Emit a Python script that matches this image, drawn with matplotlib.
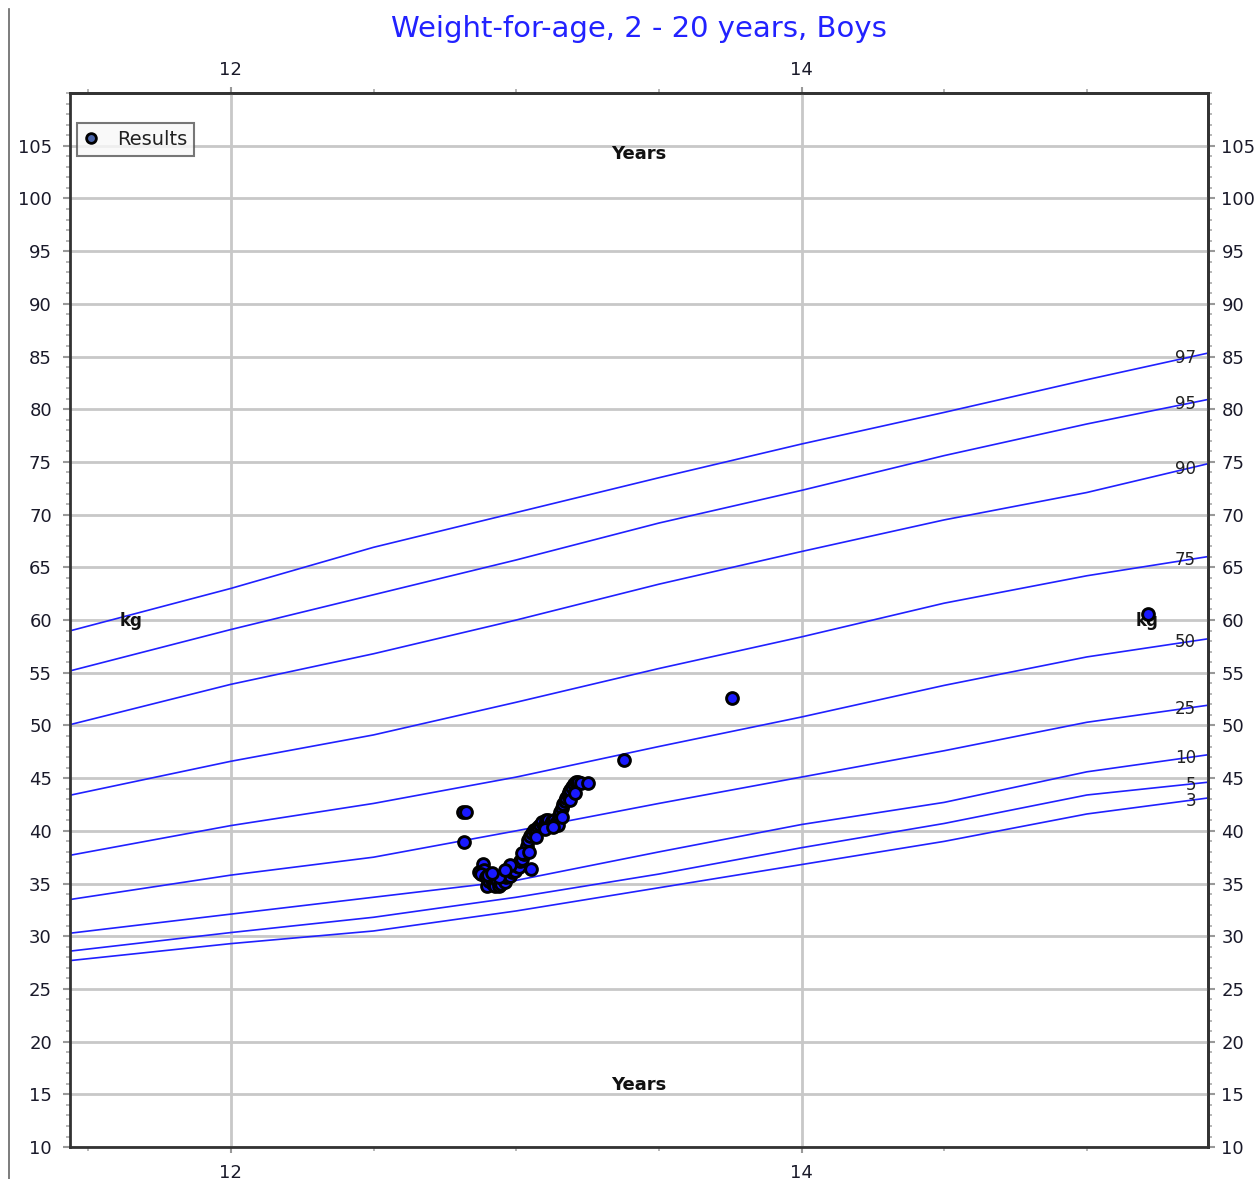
######################################################
# weight-for-age chart, boys 2 - 20 years
######################################################

import numpy as np
import matplotlib
matplotlib.use('Agg')
import matplotlib.pyplot as plt
from matplotlib.lines import Line2D

# percentile curves (age in years, weight in kg)
curve_ages = [11.44, 12.0, 12.5, 13.0, 13.5, 14.0, 14.5, 15.0, 15.42]
p97 = [59.0, 63.0, 66.9, 70.2, 73.5, 76.7, 79.7, 82.8, 85.3]
p95 = [55.2, 59.1, 62.4, 65.7, 69.2, 72.3, 75.6, 78.6, 80.9]
p90 = [50.1, 53.9, 56.8, 60.0, 63.4, 66.5, 69.5, 72.1, 74.8]
p75 = [43.4, 46.6, 49.1, 52.2, 55.4, 58.4, 61.6, 64.2, 66.0]
p50 = [37.7, 40.5, 42.6, 45.1, 48.0, 50.8, 53.8, 56.5, 58.2]
p25 = [33.5, 35.8, 37.5, 40.0, 42.6, 45.1, 47.6, 50.3, 51.9]
p10 = [30.3, 32.1, 33.7, 35.3, 38.0, 40.6, 42.7, 45.6, 47.2]
p5 = [28.6, 30.35, 31.8, 33.7, 35.9, 38.4, 40.7, 43.4, 44.6]
p3 = [27.7, 29.3, 30.5, 32.4, 34.6, 36.8, 39.0, 41.6, 43.1]
curves = [p97, p95, p90, p75, p50, p25, p10, p5, p3]
curve_names = ['97', '95', '90', '75', '50', '25', '10', '5', '3']

# measured results
result_ages = [12.813, 12.823, 12.818, 12.868, 12.882, 12.887, 12.876, 12.893,
               12.897, 12.905, 12.912, 12.918, 12.925, 12.932, 12.940, 12.948,
               12.955, 12.960, 12.966, 12.972, 12.978, 12.985, 12.990, 12.996,
               13.003, 13.010, 13.015, 13.022, 13.028, 13.033, 13.038, 13.043,
               13.048, 13.053, 13.056, 13.062, 13.068, 13.075, 13.082, 13.090,
               13.097, 13.104, 13.112, 13.118, 13.125, 13.132, 13.140, 13.147,
               13.150, 13.155, 13.160, 13.165, 13.170, 13.175, 13.180, 13.185,
               13.190, 13.196, 13.203, 13.210, 13.218, 13.228, 13.250, 13.378,
               13.757, 15.213, 12.900, 12.940, 12.980, 13.020, 13.045, 13.070,
               13.100, 13.130, 13.160, 13.190, 13.205, 12.915, 12.960]
result_weights = [41.8, 41.8, 38.9, 36.1, 36.9, 36.3, 35.9, 35.6,
                  34.8, 35.2, 35.5, 35.0, 34.8, 35.3, 34.8, 35.0,
                  35.4, 35.1, 35.6, 35.9, 35.7, 36.1, 36.4, 36.2,
                  36.7, 36.6, 37.1, 37.3, 37.8, 38.2, 38.6, 39.1,
                  39.5, 36.4, 39.8, 40.1, 40.0, 40.4, 40.6, 40.8,
                  40.5, 41.0, 41.0, 40.6, 40.9, 41.0, 40.7, 40.6,
                  41.4, 41.8, 42.2, 42.5, 42.8, 43.1, 43.4, 43.7,
                  43.9, 44.2, 44.4, 44.6, 44.6, 44.5, 44.5, 46.7,
                  52.6, 60.6, 35.8, 35.6, 36.8, 37.9, 38.0, 39.4,
                  40.2, 40.4, 41.3, 42.9, 43.6, 36.0, 36.3]

x_major = [12, 14]
x_minor = [11.5, 12.5, 13, 13.5, 14.5, 15]
y_major = list(range(10, 110, 5))

text_col = '#1a1a2a'
tick_col = '#999999'

fig = plt.figure(figsize=(12.56, 11.79), dpi=100)
ax = fig.add_axes([0.0557, 0.0271, 0.9057, 0.8940])

ax.set_xlim(11.436, 15.423)
ax.set_ylim(10, 110)

# grid
ax.set_xticks(x_major)
ax.set_xticks(x_minor, minor=True)
ax.set_yticks(y_major)
ax.set_yticks(np.arange(10, 111, 1), minor=True)
ax.grid(True, which='major', color='#c8c8c8', linewidth=2, zorder=0)
ax.set_axisbelow(True)

# percentile lines and labels
for vals, name in zip(curves, curve_names):
    ax.plot(curve_ages, vals, color='#2020ff', linewidth=1.2, zorder=2)
    ax.text(15.383, np.interp(15.34, curve_ages, vals), name, ha='right', va='center',
            fontsize=12, color='#222222', zorder=3)

# results
ax.scatter(result_ages, result_weights, s=72, facecolor='#1a1aff', edgecolor='black',
           linewidth=2.1, zorder=4)

# axis annotations
ax.text(13.43, 104.2, 'Years', ha='center', va='center', fontsize=13, fontweight='bold', color='#111111')
ax.text(13.43, 15.9, 'Years', ha='center', va='center', fontsize=13, fontweight='bold', color='#111111')
ax.text(11.65, 59.9, 'kg', ha='center', va='center', fontsize=12, fontweight='bold', color='#111111')
ax.text(15.21, 59.9, 'kg', ha='center', va='center', fontsize=12, fontweight='bold', color='#111111')

# spines and ticks
for sp in ax.spines.values():
    sp.set_color('#333333')
    sp.set_linewidth(2)
ax.tick_params(axis='y', which='major', left=True, right=False, labelleft=True, labelright=False,
               direction='out', length=5, width=1.5, color=tick_col, labelsize=13,
               labelcolor=text_col, pad=8)
ax.tick_params(axis='y', which='minor', left=True, right=False, direction='out', length=3,
               width=1.2, color='#aaaaaa')
ax.tick_params(axis='x', which='major', top=False, bottom=True, labeltop=False, labelbottom=True,
               direction='out', length=4, width=1.5, color=tick_col, labelsize=13,
               labelcolor=text_col, pad=8)
ax.tick_params(axis='x', which='minor', top=False, bottom=True, direction='out', length=3,
               width=1.2, color='#aaaaaa')

# top and right copies of the scales
top = ax.secondary_xaxis('top')
top.set_xticks(x_major)
top.set_xticks(x_minor, minor=True)
top.tick_params(which='major', direction='out', length=4, width=1.5, color=tick_col,
                labelsize=13, labelcolor=text_col, pad=6)
top.tick_params(which='minor', direction='out', length=3, width=1.2, color='#aaaaaa')
top.spines['top'].set_color('#333333')
top.spines['top'].set_linewidth(2)

right = ax.secondary_yaxis('right')
right.set_yticks(y_major)
right.set_yticks(np.arange(10, 111, 1), minor=True)
right.tick_params(which='major', direction='out', length=5, width=1.5, color=tick_col,
                  labelsize=13, labelcolor=text_col, pad=5)
right.tick_params(which='minor', direction='out', length=3, width=1.2, color='#aaaaaa')
right.spines['right'].set_color('#333333')
right.spines['right'].set_linewidth(2)

# legend
handle = Line2D([], [], linestyle='none', marker='o', markersize=7, markerfacecolor='#4a64a8',
                markeredgecolor='black', markeredgewidth=2)
leg = ax.legend([handle], ['Results'], loc='upper left', bbox_to_anchor=(0.006, 0.9715),
                fancybox=False, fontsize=14, handletextpad=0.9, borderpad=0.35,
                handlelength=0.8, borderaxespad=0)
leg.get_frame().set_edgecolor('#555555')
leg.get_frame().set_linewidth(1.5)
leg.get_frame().set_facecolor('#f8f8f8')
for t in leg.get_texts():
    t.set_color('#222222')

# title
fig.text(0.509, 0.975, 'Weight-for-age, 2 - 20 years, Boys', ha='center', va='center',
         fontsize=21, color='#2222ff')

# left border line of the page
fig.add_artist(Line2D([0.0072, 0.0072], [0.0, 0.992], color='#666666', linewidth=1.2))

fig.savefig('out.png', dpi=100)
